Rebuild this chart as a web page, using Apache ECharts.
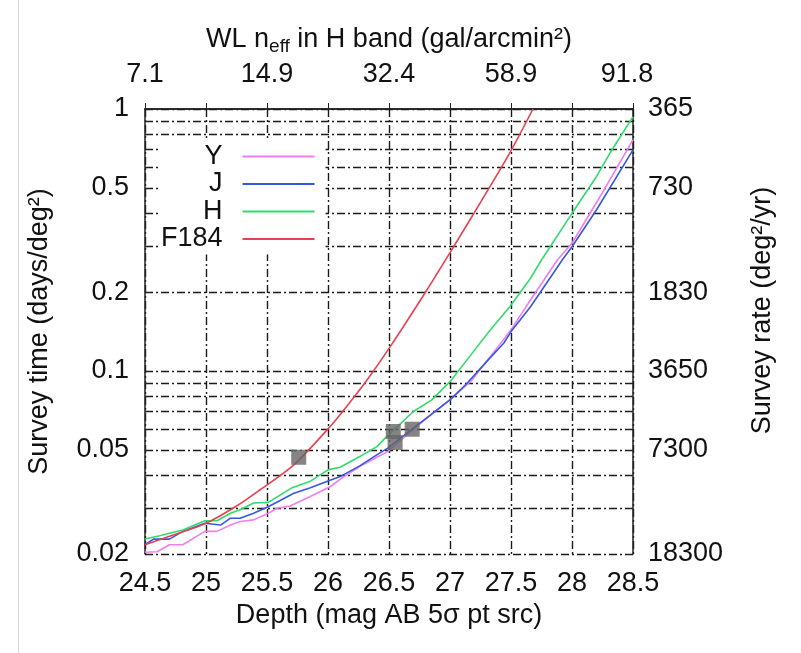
<!DOCTYPE html>
<html>
<head>
<meta charset="utf-8">
<script src="https://cdn.jsdelivr.net/npm/echarts@6/dist/echarts.min.js"></script>
<style>
html,body{margin:0;padding:0;background:#fff;}
#chart{width:801px;height:653px;}
</style>
</head>
<body>
<div id="chart"></div>
<script>
// ---- data ----
const seriesNames = ['Y', 'J', 'H', 'F184'];

const yDepth = [24.5, 24.6, 24.7, 24.81, 24.99, 25.09, 25.2, 25.28, 25.39, 25.51, 25.58, 25.69, 25.85, 26.02, 26.13, 26.26, 26.4, 26.49, 26.7, 27.03, 27.18, 27.33, 27.49, 27.66, 27.88, 28.0, 28.25, 28.5];
const yTime  = [0.0203, 0.0204, 0.0217, 0.0217, 0.0244, 0.0244, 0.0258, 0.0266, 0.0270, 0.0286, 0.0299, 0.0305, 0.0331, 0.0362, 0.0395, 0.0431, 0.0468, 0.0492, 0.0600, 0.0798, 0.0923, 0.1134, 0.1413, 0.1866, 0.2652, 0.3073, 0.48, 0.762];

const jDepth = [24.5, 24.57, 24.7, 24.81, 24.99, 25.12, 25.2, 25.28, 25.39, 25.51, 25.72, 25.85, 25.99, 26.1, 26.26, 26.4, 26.49, 26.7, 27.0, 27.14, 27.3, 27.44, 27.51, 27.66, 27.92, 28.0, 28.2, 28.5];
const jTime  = [0.0217, 0.0228, 0.0228, 0.0244, 0.0262, 0.0258, 0.0274, 0.0274, 0.0286, 0.0303, 0.0341, 0.0357, 0.0378, 0.0395, 0.0434, 0.0478, 0.0507, 0.0605, 0.0775, 0.0897, 0.1085, 0.1275, 0.1434, 0.1759, 0.2652, 0.298, 0.4116, 0.698];

const hDepth = [24.5, 24.62, 24.7, 24.81, 24.99, 25.09, 25.2, 25.28, 25.39, 25.51, 25.7, 25.85, 26.0, 26.1, 26.26, 26.4, 26.48, 26.7, 26.85, 27.0, 27.16, 27.33, 27.49, 27.66, 27.75, 28.0, 28.2, 28.31, 28.5];
const hTime  = [0.0228, 0.0235, 0.0240, 0.0247, 0.0268, 0.0268, 0.0286, 0.0295, 0.0313, 0.0315, 0.0357, 0.0378, 0.0419, 0.0429, 0.0471, 0.0514, 0.0561, 0.0700, 0.0775, 0.091, 0.1134, 0.1434, 0.1759, 0.2259, 0.2652, 0.3997, 0.5515, 0.6775, 0.935];

const fDepth = [24.5, 24.75, 25.0, 25.25, 25.44, 25.72, 26.0, 26.13, 26.32, 26.51, 26.8, 27.0, 27.25, 27.49, 27.68];
const fTime  = [0.0217, 0.0238, 0.0262, 0.0305, 0.0351, 0.0438, 0.0601, 0.0710, 0.0924, 0.1238, 0.2002, 0.283, 0.44, 0.68, 1.0];

const squareDepth = [25.76, 26.535, 26.55, 26.69];
const squareTime  = [0.0468, 0.0587, 0.0533, 0.0599];

// axis ticks
const depthMin = 24.5, depthMax = 28.5, depthStep = 0.5;
const timeMin = 0.02, timeMax = 1;
const leftTickVals   = [0.02, 0.05, 0.1, 0.2, 0.5, 1];
const leftTickLabels = ['0.02', '0.05', '0.1', '0.2', '0.5', '1'];
const rightTickLabels = ['18300', '7300', '3650', '1830', '730', '365'];
const gridVals = [0.02, 0.03, 0.04, 0.05, 0.06, 0.07, 0.08, 0.09, 0.1, 0.2, 0.3, 0.4, 0.5, 0.6, 0.7, 0.8, 0.9, 1];
const topTickDepths = [24.5, 25.5, 26.5, 27.5, 28.45];
const topTickLabels = ['7.1', '14.9', '32.4', '58.9', '91.8'];

// ---- build ----
const L = Math.log10;
const pairs = (xs, ys) => xs.map((x, i) => [x, L(ys[i])]);
const FONT = '"Liberation Sans", Arial, Helvetica, sans-serif';
const FS = 27;
const TXT = '#111';
const lookup = (vals, labels) => (v) => {
  const i = vals.findIndex(t => Math.abs(L(t) - v) < 1e-6);
  return i >= 0 ? labels[i] : '';
};
const lookupLin = (vals, labels) => (v) => {
  const i = vals.findIndex(t => Math.abs(t - v) < 1e-6);
  return i >= 0 ? labels[i] : '';
};
const frame = { show: true, lineStyle: { color: '#222', width: 1.5 } };
const gridLine = { show: true, lineStyle: { color: '#1a1a1a', width: 1.4, type: [8, 3, 2, 3] } };

const colors = { Y: '#f07ef0', J: '#3658e0', H: '#2fdc6c', F184: '#e8404f' };

const chart = echarts.init(document.getElementById('chart'), null, { renderer: 'canvas' });
chart.setOption({
  animation: false,
  backgroundColor: '#fff',
  textStyle: { fontFamily: FONT },
  grid: { left: 145, right: 168, top: 109, bottom: 99, containLabel: false },
  xAxis: [{
    type: 'value', position: 'bottom', min: depthMin, max: depthMax, interval: depthStep,
    axisLine: frame,
    axisTick: { show: true, inside: true, length: 6, lineStyle: { color: '#222' } },
    axisLabel: { fontSize: FS, color: TXT, margin: 16, fontFamily: FONT },
    splitLine: gridLine,
    name: 'Depth (mag AB 5σ pt src)', nameLocation: 'middle', nameGap: 47,
    nameTextStyle: { fontSize: FS, color: TXT, fontFamily: FONT }
  }, {
    type: 'value', position: 'top', min: depthMin, max: depthMax, interval: depthStep,
    axisLine: frame,
    axisTick: { show: false },
    axisLabel: { fontSize: FS, color: TXT, margin: 21, fontFamily: FONT,
      customValues: topTickDepths, formatter: lookupLin(topTickDepths, topTickLabels) },
    splitLine: { show: false },
    name: 'WL n{sub|eff} in H band (gal/arcmin²)', nameLocation: 'middle', nameGap: 52,
    nameTextStyle: { fontSize: FS, color: TXT, fontFamily: FONT,
      rich: { sub: { fontSize: 19, color: TXT, fontFamily: FONT, padding: [14, 0, 0, 0] } } }
  }],
  yAxis: [{
    type: 'value', position: 'left', min: L(timeMin), max: L(timeMax),
    axisLine: frame,
    axisTick: { show: true, inside: true, length: 6, customValues: gridVals.map(L), lineStyle: { color: '#222' } },
    axisLabel: { fontSize: FS, color: TXT, margin: 16, fontFamily: FONT,
      customValues: leftTickVals.map(L), formatter: lookup(leftTickVals, leftTickLabels) },
    splitLine: gridLine,
    name: 'Survey time (days/deg²)', nameLocation: 'middle', nameGap: 92,
    nameTextStyle: { fontSize: FS, color: TXT, fontFamily: FONT }
  }, {
    type: 'value', position: 'right', min: L(timeMin), max: L(timeMax),
    axisLine: frame,
    axisTick: { show: true, inside: true, length: 6, customValues: gridVals.map(L), lineStyle: { color: '#222' } },
    axisLabel: { fontSize: FS, color: TXT, margin: 15, fontFamily: FONT,
      customValues: leftTickVals.map(L), formatter: lookup(leftTickVals, rightTickLabels) },
    splitLine: { show: false },
    name: 'Survey rate (deg²/yr)', nameLocation: 'middle', nameGap: 116,
    nameTextStyle: { fontSize: FS, color: TXT, fontFamily: FONT, padding: [0, 0, 0, 42] }
  }],
  legend: {
    orient: 'vertical', align: 'right', left: 161, top: 141,
    icon: 'rect', itemWidth: 72, itemHeight: 1.8, itemGap: 0.5, padding: [2, 11, 2, 0],
    backgroundColor: '#fff', selectedMode: false,
    data: seriesNames,
    formatter: (n) => n + '  ',
    textStyle: { fontSize: FS, color: TXT, fontFamily: FONT }
  },
  graphic: [{
    type: 'line', silent: true,
    shape: { x1: 18.5, y1: 0, x2: 18.5, y2: 653 },
    style: { stroke: '#d6d6d6', lineWidth: 1 }
  }],
  series: [
    { name: 'Y', type: 'line', data: pairs(yDepth, yTime), symbol: 'none', lineStyle: { color: colors.Y, width: 1.6 }, itemStyle: { color: colors.Y } },
    { name: 'J', type: 'line', data: pairs(jDepth, jTime), symbol: 'none', lineStyle: { color: colors.J, width: 1.6 }, itemStyle: { color: colors.J } },
    { name: 'H', type: 'line', data: pairs(hDepth, hTime), symbol: 'none', lineStyle: { color: colors.H, width: 1.6 }, itemStyle: { color: colors.H } },
    { name: 'F184', type: 'line', data: pairs(fDepth, fTime), symbol: 'none', smooth: 0.3, lineStyle: { color: colors.F184, width: 1.6 }, itemStyle: { color: colors.F184 } },
    { name: 'markers', type: 'scatter', data: pairs(squareDepth, squareTime), symbol: 'rect', symbolSize: 15, itemStyle: { color: '#656565' }, z: 5 }
  ]
});
</script>
</body>
</html>
